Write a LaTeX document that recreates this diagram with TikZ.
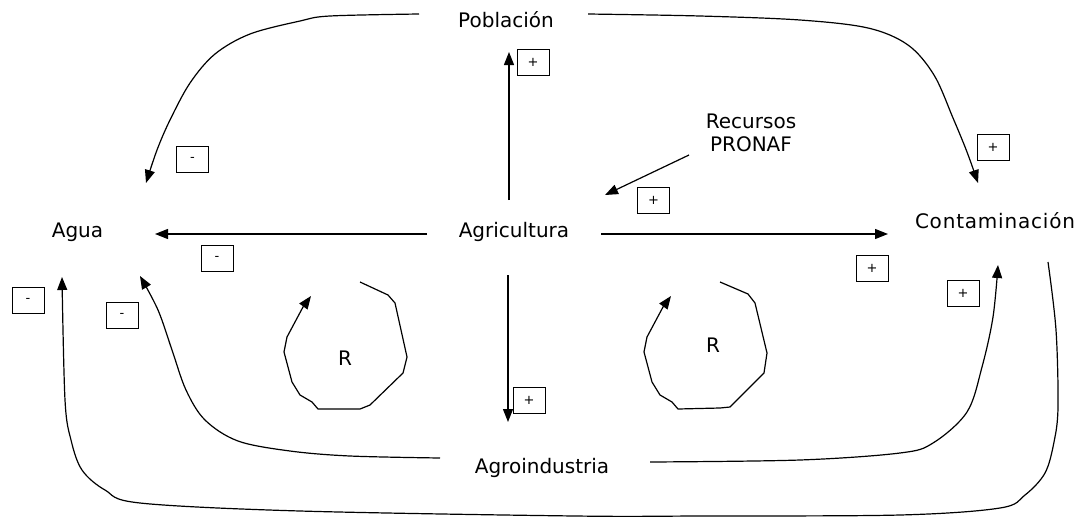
\documentclass[tikz,border=0pt]{standalone}
\usepackage{fontspec}
\setmainfont{DejaVu Sans}
\usetikzlibrary{arrows.meta}
\begin{document}
\begin{tikzpicture}[x=1pt,y=-1pt,
  lbl/.style={font=\fontsize{20}{23}\selectfont, inner sep=0pt, anchor=base},
  sgn/.style={draw, line width=0.9pt, minimum width=32pt, minimum height=26pt, inner sep=0pt, font=\fontsize{13}{14}\selectfont},
  arr/.style={line width=1.2pt, line join=round, -{Triangle[length=13pt,width=10pt]}},
  loopline/.style={line width=1.2pt, line join=round, -{Triangle[length=13pt,width=10pt]}}]
\useasboundingbox (0,0) rectangle (1086,517);

% variables
\node[lbl] (pob) at (506,27) {Población};
\node[lbl] (agri) at (514,237) {Agricultura};
\node[lbl] (agua) at (77.5,237) {Agua};
\node[lbl] (cont) at (995,228) {\addfontfeature{LetterSpace=4}Contaminación};
\node[lbl] (agro) at (542,473) {Agroindustria};
\node[lbl, align=center, anchor=center] (rec) at (751,133) {Recursos\\PRONAF};
\node[lbl] (r1) at (345,365) {R};
\node[lbl] (r2) at (713,352) {R};

% sign boxes
\node[sgn] (s1) at (533,62) {+};
\node[sgn] (s2) at (192.5,159) {\raisebox{-3pt}{-}};
\node[sgn] (s3) at (993,147) {+};
\node[sgn] (s4) at (653.5,200) {+};
\node[sgn] (s5) at (217,258) {\raisebox{-3pt}{-}};
\node[sgn] (s6) at (872,268) {+};
\node[sgn] (s7) at (28,300) {\raisebox{-3pt}{-}};
\node[sgn] (s8) at (122,315) {\raisebox{-3pt}{-}};
\node[sgn] (s9) at (963,293) {+};
\node[sgn] (s10) at (529,400) {+};

% connector ends
\coordinate (agri-n) at (509,200);
\coordinate (pob-s) at (509,52);
\coordinate (agri-w) at (427,234);
\coordinate (agua-e) at (155,234);
\coordinate (agri-e) at (601,234);
\coordinate (cont-w) at (888,234);
\coordinate (agri-s) at (508,275);
\coordinate (agro-n) at (508,422);
\coordinate (rec-sw) at (689,155);
\coordinate (agri-ne) at (605,195);

% straight connectors
\draw[arr] (agri-n) -- (pob-s);
\draw[arr] (agri-w) -- (agua-e);
\draw[arr] (agri-e) -- (cont-w);
\draw[arr] (agri-s) -- (agro-n);
\draw[arr] (rec-sw) -- (agri-ne);

% curved connectors
\draw[arr] plot[smooth, tension=0.55] coordinates {(419,14) (330,16) (300,21) (250,34) (215,54) (190,83) (170,120) (157,150) (146,183)};
\draw[arr] plot[smooth, tension=0.55] coordinates {(588,14) (700,16) (800,20) (868,28) (908,45) (934,75) (953,118) (967,152) (978,183)};
\draw[arr] plot[smooth, tension=0.55] coordinates {(440,458) (350,456) (290,451) (238,441) (205,420) (186,390) (172,350) (158,310) (140,276)};
\draw[arr] plot[smooth, tension=0.55] coordinates {(650,462) (800,460) (900,453) (933,443) (967,412) (982,367) (993,317) (998,265)};
\draw[arr] plot[smooth, tension=0.55] coordinates {(1048,262) (1056,330) (1058,407) (1054,442) (1045,473) (1025,495) (1000,508) (900,515) (700,516) (575,516) (300,511) (140,503) (105,490) (82,470) (71,440) (65,400) (62,277)};

% loops
\draw[loopline] (360,282) -- (388,295) -- (395,303) -- (407,357) -- (403,373) -- (370,405) -- (360,409) -- (318,409) -- (312,402) -- (300,395) -- (292,382) -- (284,352) -- (287,337) -- (303,307) -- (311,296);
\draw[loopline] (720,282) -- (748,294) -- (755,303) -- (767,353) -- (764,373) -- (730,407) -- (720,408) -- (678,409) -- (672,402) -- (660,395) -- (652,382) -- (644,352) -- (647,337) -- (663,307) -- (671,296);
\end{tikzpicture}
\end{document}
